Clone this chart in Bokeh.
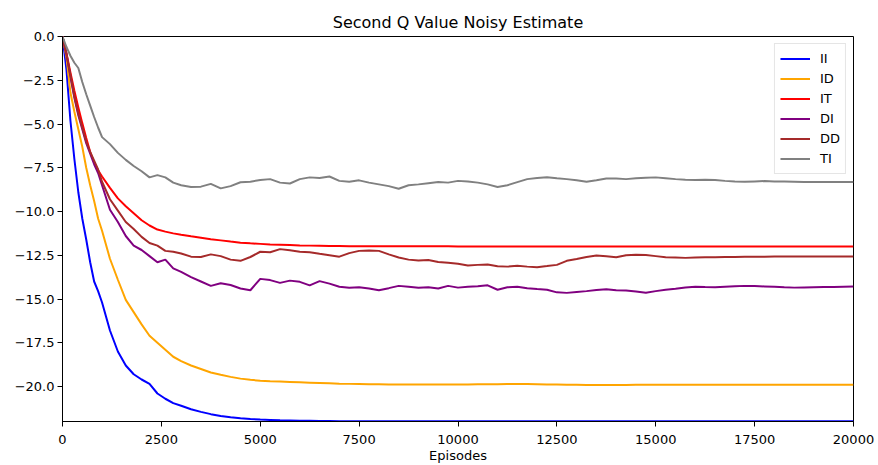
from bokeh.plotting import figure
from bokeh.models import Range1d, FixedTicker, CustomJSTickFormatter, Legend, LegendItem
from bokeh.embed import file_html
from bokeh.resources import INLINE

# ---------------- data ----------------
episodes = [0, 100, 200, 300, 400, 500, 600, 700, 800, 900,
            1000, 1200, 1400, 1600, 1800, 2000, 2200, 2400, 2600, 2800,
            3000, 3250, 3500, 3750, 4000, 4250, 4500, 4750,
            5000, 5250, 5500, 5750, 6000, 6250, 6500, 6750, 7000, 7250,
            7500, 7750, 8000, 8250, 8500, 8750, 9000, 9250, 9500, 9750,
            10000, 10250, 10500, 10750, 11000, 11250, 11500, 11750, 12000, 12250,
            12500, 12750, 13000, 13250, 13500, 13750, 14000, 14250, 14500, 14750,
            15000, 15250, 15500, 15750, 16000, 16250, 16500, 16750, 17000, 17250,
            17500, 17750, 18000, 18250, 18500, 18750, 19000, 19250, 19500, 19750,
            20000]

ii = [0, -1.9, -4.8, -7.0, -8.9, -10.4, -11.6, -12.9, -14.0, -14.55,
      -15.2, -16.8, -18.0, -18.8, -19.3, -19.6, -19.85, -20.4, -20.7, -20.95,
      -21.1, -21.3, -21.45, -21.58, -21.68, -21.76, -21.82, -21.86,
      -21.89, -21.91, -21.93, -21.94, -21.95, -21.96, -21.97, -21.97, -21.98, -21.98,
      -21.98, -21.98, -21.98, -21.98, -21.98, -21.98, -21.98, -21.98, -21.98, -21.98,
      -21.99, -21.99, -21.99, -21.99, -21.99, -21.99, -21.99, -21.99, -21.99, -21.99,
      -21.99, -21.99, -21.99, -21.99, -21.99, -21.99, -21.99, -21.99, -21.99, -21.99,
      -21.99, -21.99, -21.99, -21.99, -21.99, -21.99, -21.99, -21.99, -21.99, -21.99,
      -21.99, -21.99, -21.99, -21.99, -21.99, -21.99, -21.99, -21.99, -21.99, -21.99,
      -21.99]

id_ = [0, -1.2, -3.2, -4.3, -5.3, -6.3, -7.5, -8.5, -9.4, -10.4,
       -11.1, -12.7, -13.9, -15.05, -15.75, -16.45, -17.1, -17.5, -17.9, -18.3,
       -18.55, -18.8, -19.0, -19.2, -19.33, -19.45, -19.55, -19.62,
       -19.67, -19.7, -19.72, -19.74, -19.76, -19.78, -19.8, -19.82, -19.84, -19.85,
       -19.86, -19.87, -19.87, -19.88, -19.88, -19.88, -19.88, -19.88, -19.88, -19.88,
       -19.88, -19.88, -19.87, -19.87, -19.87, -19.86, -19.86, -19.86, -19.87, -19.88,
       -19.89, -19.9, -19.9, -19.91, -19.91, -19.91, -19.91, -19.91, -19.9, -19.9,
       -19.9, -19.9, -19.9, -19.9, -19.9, -19.9, -19.9, -19.9, -19.9, -19.9,
       -19.9, -19.9, -19.9, -19.9, -19.9, -19.9, -19.9, -19.9, -19.9, -19.9,
       -19.9]

it = [0, -0.95, -2.05, -3.1, -4.05, -4.95, -5.8, -6.6, -7.2, -7.65,
      -8.0, -8.65, -9.25, -9.7, -10.1, -10.5, -10.8, -11.03, -11.15, -11.25,
      -11.33, -11.42, -11.5, -11.58, -11.65, -11.72, -11.78, -11.82,
      -11.85, -11.88, -11.9, -11.92, -11.94, -11.95, -11.96, -11.97, -11.97, -11.98,
      -11.98, -11.99, -11.99, -11.99, -11.99, -11.99, -11.99, -11.99, -11.99, -11.99,
      -12.0, -12.0, -12.0, -12.0, -12.0, -12.0, -12.0, -12.0, -12.0, -12.0,
      -12.0, -12.0, -12.0, -12.0, -12.0, -12.0, -12.0, -12.0, -12.0, -12.0,
      -12.0, -12.0, -12.0, -12.0, -12.0, -12.0, -12.0, -12.0, -12.0, -12.0,
      -12.0, -12.0, -12.0, -12.0, -12.0, -12.0, -12.0, -12.0, -12.0, -12.0,
      -12.0]

di = [0, -1.0, -2.3, -3.5, -4.5, -5.3, -6.1, -6.7, -7.3, -7.8,
      -8.5, -9.9, -10.6, -11.4, -11.95, -12.2, -12.55, -12.9, -12.75, -13.25,
      -13.45, -13.75, -14.0, -14.25, -14.1, -14.2, -14.4, -14.5,
      -13.85, -13.92, -14.08, -13.95, -14.02, -14.22, -13.98, -14.12, -14.3, -14.36,
      -14.33, -14.4, -14.5, -14.38, -14.25, -14.3, -14.36, -14.33, -14.4, -14.25,
      -14.35, -14.3, -14.27, -14.22, -14.47, -14.33, -14.3, -14.38, -14.43, -14.47,
      -14.62, -14.65, -14.6, -14.55, -14.48, -14.44, -14.5, -14.52, -14.57, -14.64,
      -14.55, -14.47, -14.42, -14.34, -14.3, -14.32, -14.33, -14.3, -14.27, -14.25,
      -14.26, -14.28, -14.3, -14.33, -14.35, -14.34, -14.33, -14.32, -14.31, -14.3,
      -14.29]

dd = [0, -1.0, -2.2, -3.4, -4.4, -5.2, -6.0, -6.6, -7.1, -7.6,
      -8.3, -9.3, -9.95, -10.6, -11.0, -11.45, -11.8, -11.95, -12.25, -12.3,
      -12.4, -12.58, -12.6, -12.45, -12.55, -12.75, -12.82, -12.6,
      -12.3, -12.33, -12.15, -12.22, -12.3, -12.33, -12.42, -12.5, -12.58, -12.38,
      -12.25, -12.23, -12.25, -12.45, -12.63, -12.75, -12.8, -12.77, -12.88, -12.93,
      -12.98, -13.08, -13.05, -13.03, -13.13, -13.15, -13.1, -13.15, -13.18, -13.12,
      -13.05, -12.82, -12.72, -12.6, -12.52, -12.56, -12.62, -12.5, -12.47, -12.49,
      -12.55, -12.61, -12.63, -12.65, -12.63, -12.62, -12.61, -12.6, -12.6, -12.58,
      -12.58, -12.58, -12.57, -12.57, -12.57, -12.57, -12.57, -12.57, -12.57, -12.57,
      -12.57]

ti = [0, -0.6, -1.1, -1.5, -1.8, -2.6, -3.3, -3.95, -4.6, -5.2,
      -5.75, -6.15, -6.65, -7.05, -7.4, -7.7, -8.05, -7.92, -8.05, -8.35,
      -8.5, -8.6, -8.58, -8.42, -8.68, -8.55, -8.33, -8.3,
      -8.2, -8.15, -8.35, -8.4, -8.15, -8.05, -8.08, -8.0, -8.25, -8.3,
      -8.22, -8.35, -8.45, -8.55, -8.7, -8.5, -8.45, -8.38, -8.32, -8.35,
      -8.25, -8.28, -8.35, -8.45, -8.6, -8.5, -8.32, -8.15, -8.08, -8.04,
      -8.1, -8.15, -8.22, -8.3, -8.22, -8.12, -8.12, -8.15, -8.1, -8.07,
      -8.05, -8.1, -8.15, -8.18, -8.2, -8.18, -8.2, -8.25, -8.28, -8.3,
      -8.28, -8.26, -8.28, -8.29, -8.3, -8.31, -8.31, -8.32, -8.32, -8.32,
      -8.32]

series_names = ["II", "ID", "IT", "DI", "DD", "TI"]
series_values = [ii, id_, it, di, dd, ti]
series_colors = ["blue", "orange", "red", "purple", "brown", "gray"]

x_ticks = [0, 2500, 5000, 7500, 10000, 12500, 15000, 17500, 20000]
y_ticks = [0.0, -2.5, -5.0, -7.5, -10.0, -12.5, -15.0, -17.5, -20.0]

FONT = "DejaVu Sans"

# ---------------- figure ----------------
p = figure(width=878, height=465, output_backend="svg", toolbar_location=None,
           x_range=Range1d(0, 20000), y_range=Range1d(-22, 0),
           min_border_left=62, min_border_right=25, min_border_top=36, min_border_bottom=44)

p.title.text = "Second Q Value Noisy Estimate"
p.title.align = "center"
p.title.text_font = FONT
p.title.text_font_size = "16px"
p.title.text_font_style = "normal"
p.title.text_color = "black"

p.xgrid.visible = False
p.ygrid.visible = False
p.outline_line_color = "black"
p.outline_line_width = 1
p.background_fill_color = "white"

for ax in (p.xaxis[0], p.yaxis[0]):
    ax.axis_line_color = "black"
    ax.major_tick_line_color = "black"
    ax.major_tick_out = 5
    ax.major_tick_in = 0
    ax.minor_tick_line_color = None
    ax.major_label_text_font = FONT
    ax.major_label_text_font_size = "13px"
    ax.major_label_text_color = "black"
    ax.axis_label_text_font = FONT
    ax.axis_label_text_font_size = "13px"
    ax.axis_label_text_font_style = "normal"
    ax.axis_label_text_color = "black"

p.xaxis.ticker = FixedTicker(ticks=x_ticks)
p.yaxis.ticker = FixedTicker(ticks=y_ticks)
p.yaxis.formatter = CustomJSTickFormatter(code="return tick.toFixed(1).replace('-', '\u2212');")
p.xaxis.formatter = CustomJSTickFormatter(code="return tick.toFixed(0);")
p.xaxis.axis_label = "Episodes"
p.xaxis.major_label_standoff = 8
p.xaxis.axis_label_standoff = 1
p.yaxis.major_label_standoff = 3

items = []
for name, vals, col in zip(series_names, series_values, series_colors):
    r = p.line(episodes, vals, line_color=col, line_width=2)
    items.append(LegendItem(label=name, renderers=[r]))

legend = Legend(items=items, location="top_right")
legend.label_text_font = FONT
legend.label_text_font_size = "13px"
legend.label_text_color = "black"
legend.glyph_width = 30
legend.glyph_height = 19
legend.label_height = 19
legend.label_standoff = 10
legend.spacing = 1
legend.padding = 5
legend.margin = 7
legend.border_line_color = "#cccccc"
legend.border_line_width = 1
legend.background_fill_alpha = 0.8
p.add_layout(legend)

open("out.html", "w").write(file_html(p, INLINE))
